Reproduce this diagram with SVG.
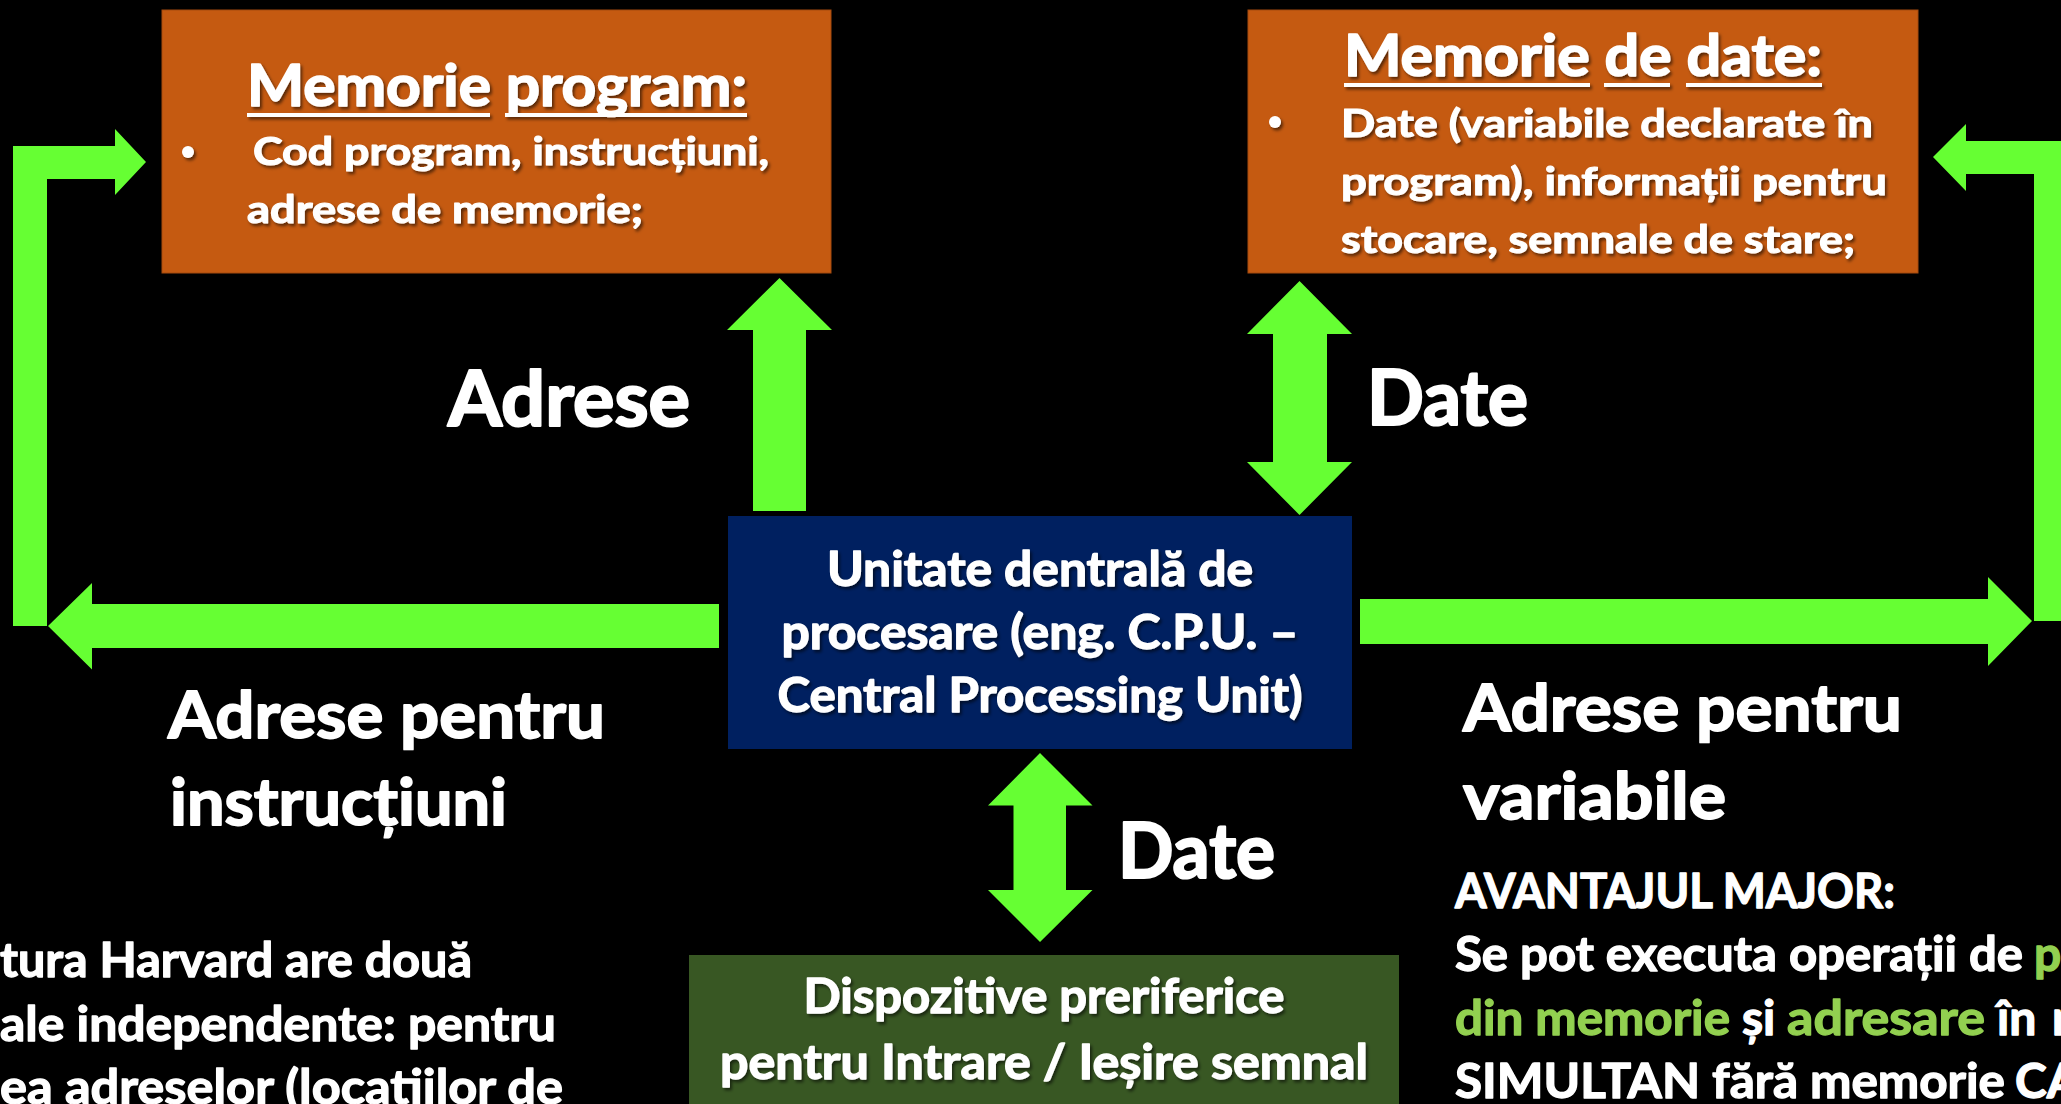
<svg xmlns="http://www.w3.org/2000/svg" width="2061" height="1104" viewBox="0 0 2061 1104">
<defs>
<style>
text{font-family:Lato,"Open Sans","Liberation Sans",sans-serif;font-weight:bold;fill:#fff;stroke:#fff;stroke-linejoin:round}
.title{font-size:57px;stroke-width:1.6px}
.body{font-size:39px;stroke-width:1.1px}
.big{font-size:76px;stroke-width:2.2px}
.lbl{font-size:65px;stroke-width:1.8px}
.box{font-size:48px;stroke-width:1.3px}
.note{font-size:48px;stroke-width:1.3px}
.hl{fill:#92D050;stroke:#92D050}
.sh{filter:url(#shadow)}
.arrow{fill:#66FF33}
</style>
<filter id="shadow" x="-10%" y="-30%" width="120%" height="160%">
<feDropShadow dx="2" dy="2.5" stdDeviation="1.5" flood-color="#000" flood-opacity="0.55"/>
</filter>
</defs>
<rect width="2061" height="1104" fill="#000"/>

<g id="connectors">
<polygon class="arrow" points="719,604 92,604 92,583 48,626 92,669.5 92,648 719,648"/>
<polygon class="arrow" points="13,626 13,146 115,146 115,129 146,162 115,195 115,179 47,179 47,626"/>
<polygon class="arrow" points="1360,599 1988,599 1988,577 2032,621 1988,666 1988,644 1360,644"/>
<polygon class="arrow" points="2034,621 2034,174 1966,174 1966,191 1933,157 1966,124 1966,141 2070,141 2070,621"/>
<polygon class="arrow" points="753,511 753,330 727,330 779.5,278 832,330 806,330 806,511"/>
<polygon class="arrow" points="1299.5,281 1352,334 1327,334 1327,462 1352,462 1299.5,515 1247,462 1273,462 1273,334 1247,334"/>
<polygon class="arrow" points="1040,753 1092.5,805.5 1066,805.5 1066,890 1092.5,890 1040,942 988,890 1013.5,890 1013.5,805.5 988,805.5"/>
</g>

<g id="labels">
<text class="big" x="448" y="426" textLength="242" lengthAdjust="spacingAndGlyphs">Adrese</text>
<text class="big" x="1367" y="425" textLength="161" lengthAdjust="spacingAndGlyphs">Date</text>
<text class="big" x="1118" y="878" textLength="157" lengthAdjust="spacingAndGlyphs">Date</text>
<text class="lbl" x="168" y="738" textLength="437" lengthAdjust="spacingAndGlyphs">Adrese pentru</text>
<text class="lbl" x="170" y="825" textLength="337" lengthAdjust="spacingAndGlyphs">instrucțiuni</text>
<text class="lbl" x="1463" y="731" textLength="439" lengthAdjust="spacingAndGlyphs">Adrese pentru</text>
<text class="lbl" x="1463" y="819" textLength="263" lengthAdjust="spacingAndGlyphs">variabile</text>
</g>

<g id="program-memory">
<rect x="162" y="10" width="669" height="263" fill="#C55A11" stroke="#A54B0E" stroke-width="1"/>
<g class="sh">
<text class="title" x="247" y="106" textLength="500" lengthAdjust="spacingAndGlyphs">Memorie program:</text>
<rect x="247" y="113" width="243" height="4" fill="#fff"/>
<rect x="505" y="113" width="242" height="4" fill="#fff"/>
<circle cx="188" cy="152" r="6" fill="#fff"/>
<text class="body" x="253" y="165" textLength="516" lengthAdjust="spacingAndGlyphs">Cod program, instrucțiuni,</text>
<text class="body" x="247" y="223" textLength="396" lengthAdjust="spacingAndGlyphs">adrese de memorie;</text>
</g>
</g>

<g id="data-memory">
<rect x="1248" y="10" width="670" height="263" fill="#C55A11" stroke="#A54B0E" stroke-width="1"/>
<g class="sh">
<text class="title" x="1344" y="76" textLength="478" lengthAdjust="spacingAndGlyphs">Memorie de date:</text>
<rect x="1344" y="83" width="246" height="4" fill="#fff"/>
<rect x="1604" y="83" width="66" height="4" fill="#fff"/>
<rect x="1686" y="83" width="136" height="4" fill="#fff"/>
<circle cx="1275" cy="122" r="6" fill="#fff"/>
<text class="body" x="1341" y="137" textLength="532" lengthAdjust="spacingAndGlyphs">Date (variabile declarate în</text>
<text class="body" x="1341" y="195" textLength="546" lengthAdjust="spacingAndGlyphs">program), informații pentru</text>
<text class="body" x="1341" y="253" textLength="514" lengthAdjust="spacingAndGlyphs">stocare, semnale de stare;</text>
</g>
</g>

<g id="cpu">
<rect x="728" y="516" width="624" height="233" fill="#002060"/>
<g class="sh">
<text class="box" x="1040" y="586" text-anchor="middle" textLength="426" lengthAdjust="spacingAndGlyphs">Unitate dentrală de</text>
<text class="box" x="1040" y="649" text-anchor="middle" textLength="517" lengthAdjust="spacingAndGlyphs">procesare (eng. C.P.U. –</text>
<text class="box" x="1040" y="712" text-anchor="middle" textLength="525" lengthAdjust="spacingAndGlyphs">Central Processing Unit)</text>
</g>
</g>

<g id="io-devices">
<rect x="689" y="955" width="710" height="160" fill="#385723"/>
<g class="sh">
<text class="box" x="1044" y="1013" text-anchor="middle" textLength="481" lengthAdjust="spacingAndGlyphs">Dispozitive preriferice</text>
<text class="box" x="1044" y="1079" text-anchor="middle" textLength="648" lengthAdjust="spacingAndGlyphs">pentru Intrare / Ieșire semnal</text>
</g>
</g>

<g id="harvard-note">
<text class="note" x="0" y="977" textLength="472" lengthAdjust="spacingAndGlyphs">tura Harvard are două</text>
<text class="note" x="0" y="1041" textLength="556" lengthAdjust="spacingAndGlyphs">ale independente: pentru</text>
<text class="note" x="0" y="1104" textLength="563" lengthAdjust="spacingAndGlyphs">ea adreselor (locatiilor de</text>
</g>

<g id="advantage-note">
<text class="note" x="1455" y="908" textLength="440" lengthAdjust="spacingAndGlyphs">AVANTAJUL MAJOR:</text>
<text class="note" y="971"><tspan x="1455" textLength="568" lengthAdjust="spacingAndGlyphs">Se pot executa operații de</tspan><tspan class="hl" x="2034">p</tspan></text>
<text class="note" y="1035"><tspan class="hl" x="1455" textLength="275" lengthAdjust="spacingAndGlyphs">din memorie</tspan><tspan x="1742">și</tspan><tspan class="hl" x="1787" textLength="198" lengthAdjust="spacingAndGlyphs">adresare</tspan><tspan x="1997">în</tspan><tspan x="2052">r</tspan></text>
<text class="note" y="1098"><tspan x="1455" textLength="550" lengthAdjust="spacingAndGlyphs">SIMULTAN fără memorie</tspan><tspan x="2015">CA</tspan></text>
</g>
</svg>
